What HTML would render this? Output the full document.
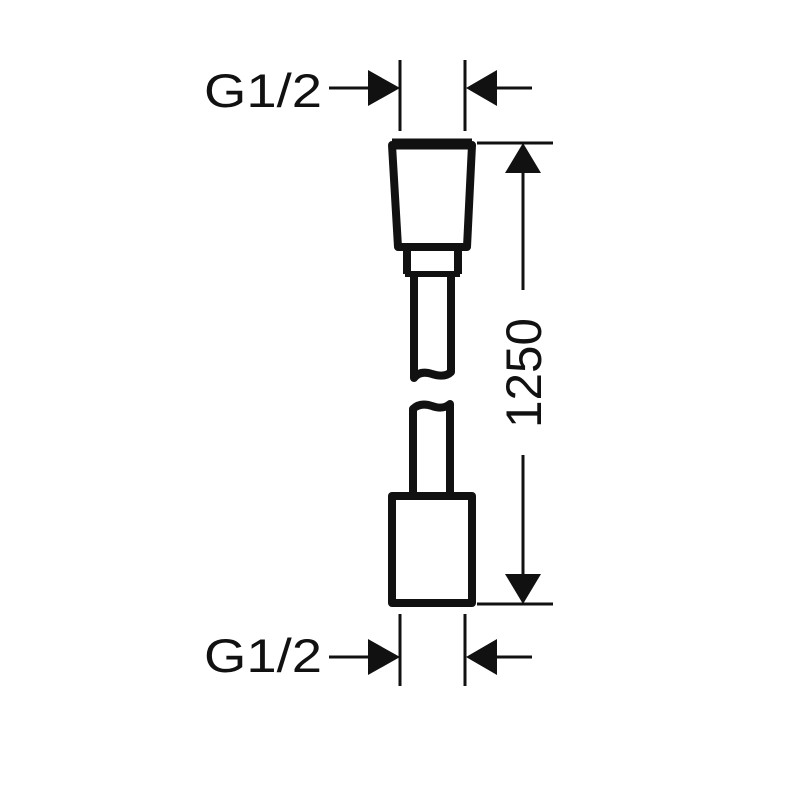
<!DOCTYPE html>
<html><head><style>body{margin:0;background:#fff}svg{display:block}</style></head><body>
<svg width="800" height="800" viewBox="0 0 800 800" xmlns="http://www.w3.org/2000/svg">
<rect width="800" height="800" fill="#fff"/>
<g font-family="Liberation Sans, DejaVu Sans, sans-serif" font-size="47" fill="#111">
<text x="204" y="107" textLength="118" lengthAdjust="spacingAndGlyphs">G1/2</text>
<text x="204" y="672" textLength="118" lengthAdjust="spacingAndGlyphs">G1/2</text>
<text transform="translate(541,373) rotate(-90)" text-anchor="middle" font-size="50" textLength="110" lengthAdjust="spacingAndGlyphs">1250</text>
</g>
<g stroke="#111" stroke-width="3" fill="none">
<line x1="400" y1="60" x2="400" y2="131"/>
<line x1="465" y1="60" x2="465" y2="131"/>
<line x1="329" y1="88" x2="370" y2="88"/>
<line x1="495" y1="88" x2="532" y2="88"/>
<line x1="400" y1="614" x2="400" y2="686"/>
<line x1="465" y1="614" x2="465" y2="686"/>
<line x1="329" y1="657" x2="370" y2="657"/>
<line x1="495" y1="657" x2="532" y2="657"/>
<line x1="477" y1="143" x2="553" y2="143"/>
<line x1="523" y1="165" x2="523" y2="290"/>
<line x1="477" y1="604" x2="553" y2="604"/>
<line x1="523" y1="455" x2="523" y2="580"/>
</g>
<g fill="#111">
<polygon points="368,70 400,88 368,106"/>
<polygon points="497,70 466,88 497,106"/>
<polygon points="368,639 400,657 368,675"/>
<polygon points="497,639 466,657 497,675"/>
<polygon points="523,143 505,173 541,173"/>
<polygon points="523,604 505,574 541,574"/>
</g>
<g stroke="#111" stroke-width="8" fill="none" stroke-linejoin="round">
<polygon points="392,145 472,145 467,247 398,247"/>
<line x1="392" y1="144" x2="472" y2="144" stroke-width="11"/>
<path d="M407,247 V274 M458,247 V274"/>
<line x1="405" y1="274" x2="460" y2="274" stroke-width="6"/>
<path d="M414,274 V378 Q420,370 432,374 Q445,378 451,372 V274"/>
<path d="M413,493 V409 Q420,402 432,406 Q443,410 450,404 V493"/>
<rect x="392" y="496" width="80" height="107"/>
</g>
</svg>
</body></html>
